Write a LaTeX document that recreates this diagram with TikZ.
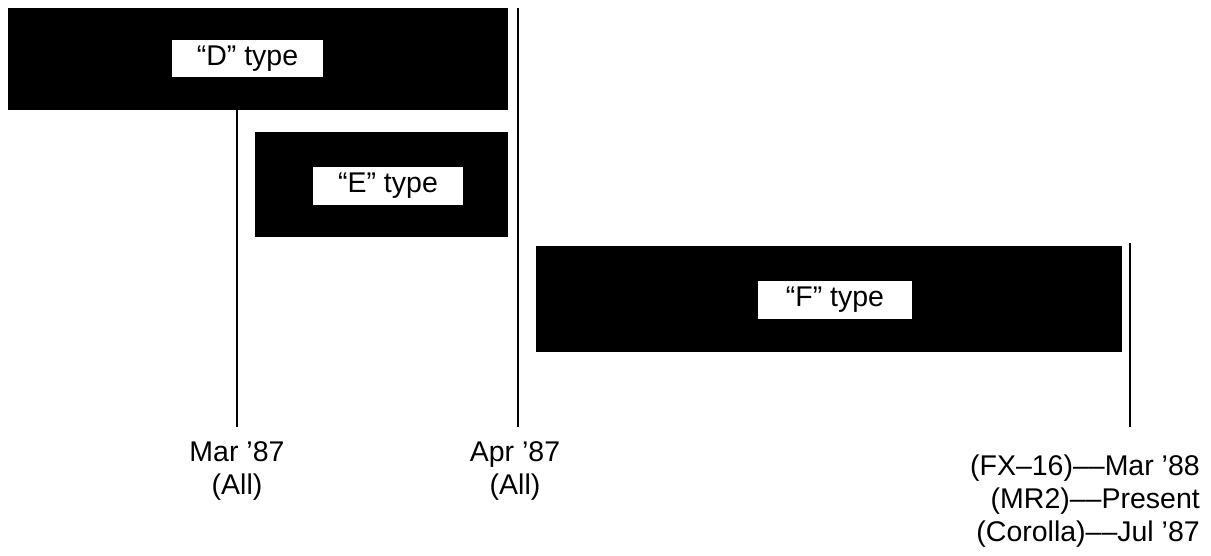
\documentclass[tikz,border=0pt]{standalone}
\usepackage{fontspec}
\setmainfont{Liberation Sans}
\usetikzlibrary{positioning}

\tikzset{
  bar/.style={fill=black, draw=black, inner sep=0pt},
  tag/.style={fill=white, inner sep=0pt, font=\fontsize{28.5}{32}\selectfont},
  date/.style={align=center, inner sep=2pt, font=\fontsize{28.5}{33}\selectfont},
  mark line/.style={line width=2pt}
}

\begin{document}
\begin{tikzpicture}[x=1pt, y=-1pt]
  \useasboundingbox (0,0) rectangle (1211,556);

  \node (dbar) [bar, minimum width=499pt, minimum height=101pt] at (257.5,58.5) {};
  \node (dtag) [tag, minimum width=151pt, minimum height=37pt] at (247.5,58.5) {“D” type};

  \node (ebar) [bar, minimum width=252pt, minimum height=104pt] at (381,184) {};
  \node (etag) [tag, minimum width=150pt, minimum height=38pt] at (388,186) {“E” type};

  \node (fbar) [bar, minimum width=585pt, minimum height=105pt] at (828.5,298.5) {};
  \node (ftag) [tag, minimum width=154pt, minimum height=38pt] at (835,300) {“F” type};

  \coordinate (marend) at (237,427);
  \coordinate (aprtop) at (518,8);
  \coordinate (aprend) at (518,427);
  \coordinate (lasttop) at (1130,243);
  \coordinate (lastend) at (1130,427);

  \draw [mark line] (dbar.south -| marend) -- (marend);
  \draw [mark line] (aprtop) -- (aprend);
  \draw [mark line] (lasttop) -- (lastend);

  \node (marlbl) [date, below=12pt of marend] {Mar ’87\\(All)};
  \node (aprlbl) [date, below=12pt of aprend, xshift=-3pt] {Apr ’87\\(All)};
  \node (lastlbl) [date, align=right, anchor=north east] at (1202,453)
    {(FX–16)––Mar ’88\\(MR2)––Present\\(Corolla)––Jul ’87};
\end{tikzpicture}
\end{document}
